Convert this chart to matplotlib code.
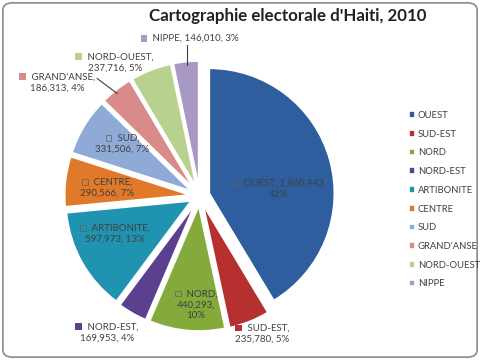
import matplotlib
matplotlib.use("Agg")
import matplotlib.pyplot as plt
from matplotlib.patches import Rectangle, FancyBboxPatch
from matplotlib.offsetbox import TextArea, DrawingArea, HPacker, VPacker, AnnotationBbox

# ---- data ----
departements = ["OUEST", "SUD-EST", "NORD", "NORD-EST", "ARTIBONITE",
                "CENTRE", "SUD", "GRAND'ANSE", "NORD-OUEST", "NIPPE"]
electeurs = [1860443, 235780, 440293, 169953, 597973,
             290566, 331506, 186313, 237716, 146010]
pourcentages = ["42%", "5%", "10%", "4%", "13%", "7%", "7%", "4%", "5%", "3%"]
titre = "Cartographie electorale d'Haiti, 2010"

# ---- style ----
colors = ["#2E5E9E", "#B5302F", "#84AA3C", "#5C3F8E", "#1F93B0",
          "#E07A2A", "#8FAAD6", "#D98B89", "#B8D18E", "#A898C4"]

# label layout: (x, y) in pie data units
label_pos = [(0.63, 0.06), (0.50, -1.10), (-0.03, -0.87), (-0.74, -1.09),
             (-0.68, -0.30), (-0.74, 0.07), (-0.62, 0.42), (-1.14, 0.91),
             (-0.68, 1.07), (-0.08, 1.26)]
label_lines = [
    ["OUEST, {v},", "{p}"],
    ["SUD-EST,", "{v}, {p}"],
    ["NORD,", "{v},", "{p}"],
    ["NORD-EST,", "{v}, {p}"],
    ["ARTIBONITE,", "{v}, {p}"],
    ["CENTRE,", "{v}, {p}"],
    ["SUD,", "{v}, {p}"],
    ["GRAND'ANSE,", "{v}, {p}"],
    ["NORD-OUEST,", "{v}, {p}"],
    ["NIPPE, {v}, {p}"],
]
inside = [True, False, True, False, True, True, True, False, False, False]

plt.rcParams["font.family"] = ["Lato", "DejaVu Sans"]

fig = plt.figure(figsize=(4.8, 3.6), dpi=100)
fig.patch.set_facecolor("white")
border = FancyBboxPatch((0.006, 0.008), 0.988, 0.984,
                        boxstyle="round,pad=0,rounding_size=0.02",
                        transform=fig.transFigure, facecolor="none",
                        edgecolor="#8a8a8a", linewidth=1.2, zorder=-1)
fig.patches.append(border)

ax = fig.add_axes([0.136, 0.082, 0.560, 0.747])
wedges, _ = ax.pie(electeurs, colors=colors, startangle=90, counterclock=False,
                   explode=[0.08] * len(electeurs),
                   wedgeprops=dict(edgecolor="white", linewidth=1.2))
ax.set_xlim(-1.075, 1.075)
ax.set_ylim(-1.075, 1.075)
ax.set_aspect("equal")
ax.axis("off")

txtcol = "#404040"
fs = 7.0
for i, name in enumerate(departements):
    v = f"{electeurs[i]:,}"
    lines = [ln.format(v=v, p=pourcentages[i]) for ln in label_lines[i]]
    da = DrawingArea(5, 5, 0, 0)
    if inside[i]:
        sq = Rectangle((0.5, 0.5), 4, 4, facecolor="none", edgecolor="#606060", linewidth=0.5)
    else:
        sq = Rectangle((0, 0), 5, 5, facecolor=colors[i], edgecolor="none")
    da.add_artist(sq)
    row1 = HPacker(children=[da, TextArea(" " + lines[0], textprops=dict(color=txtcol, fontsize=fs))],
                   align="center", pad=0, sep=2)
    rows = [row1] + [TextArea(ln, textprops=dict(color=txtcol, fontsize=fs)) for ln in lines[1:]]
    box = VPacker(children=rows, align="center", pad=0, sep=1.5)
    ab = AnnotationBbox(box, label_pos[i], xycoords="data", frameon=False,
                        box_alignment=(0.5, 0.5), annotation_clip=False)
    ax.add_artist(ab)

# leader lines
ax.plot([-0.10, -0.10], [1.21, 1.05], color="#404040", lw=0.8, clip_on=False)
ax.plot([-0.82, -0.66], [0.94, 0.82], color="#404040", lw=0.8, clip_on=False)

fig.text(0.60, 0.955, titre, ha="center", va="center", fontsize=12.2,
         fontweight="bold", color="#222222")

leg = fig.legend(wedges, departements, loc="upper left",
                 bbox_to_anchor=(0.842, 0.705), frameon=False,
                 fontsize=6.8, handlelength=0.7, handleheight=0.7,
                 handletextpad=0.25, labelspacing=1.03, borderpad=0)
for t in leg.get_texts():
    t.set_color(txtcol)

fig.savefig("out.png", dpi=100, facecolor="white")
